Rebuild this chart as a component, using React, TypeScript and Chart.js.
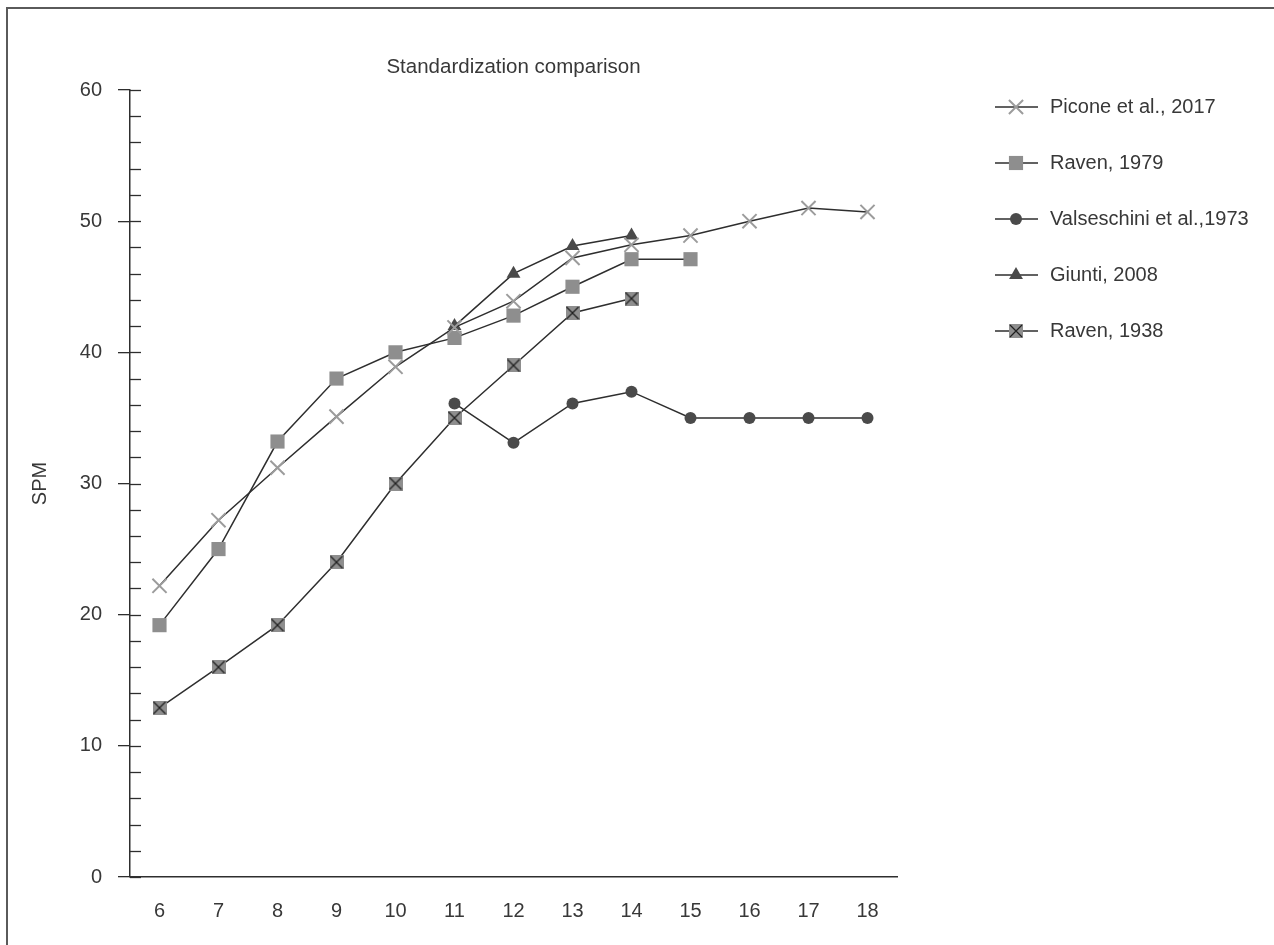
import React, { useEffect, useRef } from 'react';
import { Chart, registerables } from 'chart.js';
import { drawPoint } from 'chart.js/helpers';

Chart.register(...registerables);

const ageLabels = ['6', '7', '8', '9', '10', '11', '12', '13', '14', '15', '16', '17', '18'];

const seriesNames = [
  'Picone et al., 2017',
  'Raven, 1979',
  'Valseschini et al.,1973',
  'Giunti, 2008',
  'Raven, 1938',
];

const piconeValues = [22.2, 27.2, 31.2, 35.1, 38.9, 41.9, 43.9, 47.2, 48.2, 48.9, 50.0, 51.0, 50.7];
const raven1979Values = [19.2, 25.0, 33.2, 38.0, 40.0, 41.1, 42.8, 45.0, 47.1, 47.1, null, null, null];
const valseschiniValues = [null, null, null, null, null, 36.1, 33.1, 36.1, 37.0, 35.0, 35.0, 35.0, 35.0];
const giuntiValues = [null, null, null, null, null, 42.0, 46.0, 48.1, 48.9, null, null, null, null];
const raven1938Values = [12.9, 16.0, 19.2, 24.0, 30.0, 35.0, 39.0, 43.0, 44.1, null, null, null, null];

const yMin = 0;
const yMax = 60;
const yMajorStep = 10;
const yMinorStep = 2;

const chartTitle = 'Standardization comparison';
const yAxisTitle = 'SPM';

const FONT = '"Liberation Sans", Arial, sans-serif';
const TEXT = '#383838';
const LINE = '#2e2e2e';

function makeBoxCross(): HTMLCanvasElement {
  const c = document.createElement('canvas');
  c.width = 14;
  c.height = 14;
  const g = c.getContext('2d')!;
  g.fillStyle = '#8e8e8e';
  g.fillRect(0, 0, 14, 14);
  g.strokeStyle = '#1e1e1e';
  g.lineWidth = 1.2;
  g.beginPath();
  g.moveTo(1, 1);
  g.lineTo(13, 13);
  g.moveTo(13, 1);
  g.lineTo(1, 13);
  g.stroke();
  return c;
}

const minorTickPlugin = {
  id: 'minorTicks',
  beforeDatasetsDraw(chart: any) {
    const y = chart.scales.y;
    const ctx = chart.ctx;
    const left = chart.chartArea.left;
    ctx.save();
    ctx.strokeStyle = LINE;
    ctx.lineWidth = 1.3;
    for (let v = yMin; v <= yMax; v += yMinorStep) {
      const py = Math.round(y.getPixelForValue(v)) + 0.5;
      ctx.beginPath();
      ctx.moveTo(left, py);
      ctx.lineTo(left + 11, py);
      ctx.stroke();
    }
    ctx.restore();
  },
};

const titlePlugin = {
  id: 'centerTitle',
  afterDraw(chart: any) {
    const ctx = chart.ctx;
    const a = chart.chartArea;
    ctx.save();
    ctx.fillStyle = TEXT;
    ctx.font = `20.5px ${FONT}`;
    ctx.textAlign = 'center';
    ctx.textBaseline = 'middle';
    ctx.fillText(chartTitle, (a.left + a.right) / 2, 67);
    ctx.restore();
  },
};

const sideLegendPlugin = {
  id: 'sideLegend',
  afterDraw(chart: any) {
    const ctx = chart.ctx;
    chart.data.datasets.forEach((ds: any, i: number) => {
      const y = 107 + i * 56;
      ctx.save();
      ctx.strokeStyle = LINE;
      ctx.lineWidth = 1.5;
      ctx.beginPath();
      ctx.moveTo(995, y);
      ctx.lineTo(1038, y);
      ctx.stroke();
      ctx.fillStyle = ds.pointBackgroundColor;
      ctx.strokeStyle = ds.pointBorderColor;
      ctx.lineWidth = ds.pointBorderWidth;
      drawPoint(
        ctx,
        { pointStyle: ds.pointStyle, radius: ds.pointRadius, rotation: 0, borderWidth: ds.pointBorderWidth } as any,
        1016,
        y
      );
      ctx.fillStyle = TEXT;
      ctx.font = `20px ${FONT}`;
      ctx.textAlign = 'left';
      ctx.textBaseline = 'middle';
      ctx.fillText(ds.label, 1050, y);
      ctx.restore();
    });
  },
};

export default function App() {
  const canvasRef = useRef<HTMLCanvasElement | null>(null);

  useEffect(() => {
    const canvas = canvasRef.current;
    if (!canvas) return;
    const boxCross = makeBoxCross();
    const common = { borderColor: LINE, borderWidth: 1.5, tension: 0, spanGaps: false };
    const chart = new Chart(canvas, {
      type: 'line',
      data: {
        labels: ageLabels,
        datasets: [
          {
            ...common,
            label: seriesNames[0],
            data: piconeValues,
            pointStyle: 'crossRot',
            pointRadius: 10,
            pointBorderColor: '#9c9c9c',
            pointBackgroundColor: '#9c9c9c',
            pointBorderWidth: 2,
          },
          {
            ...common,
            label: seriesNames[1],
            data: raven1979Values,
            pointStyle: 'rect',
            pointRadius: 10,
            pointBorderColor: '#8e8e8e',
            pointBackgroundColor: '#8e8e8e',
            pointBorderWidth: 0,
          },
          {
            ...common,
            label: seriesNames[2],
            data: valseschiniValues,
            pointStyle: 'circle',
            pointRadius: 6,
            pointBorderColor: '#4a4a4a',
            pointBackgroundColor: '#4a4a4a',
            pointBorderWidth: 0,
          },
          {
            ...common,
            label: seriesNames[3],
            data: giuntiValues,
            pointStyle: 'triangle',
            pointRadius: 8,
            pointBorderColor: '#4a4a4a',
            pointBackgroundColor: '#4a4a4a',
            pointBorderWidth: 0,
          },
          {
            ...common,
            label: seriesNames[4],
            data: raven1938Values,
            pointStyle: boxCross,
            pointRadius: 7,
            pointBorderColor: '#1e1e1e',
            pointBackgroundColor: '#8e8e8e',
            pointBorderWidth: 0,
          },
        ] as any,
      },
      options: {
        responsive: false,
        animation: false,
        devicePixelRatio: 1,
        layout: { padding: { top: 90, right: 377, left: 0, bottom: 0 } },
        plugins: {
          legend: { display: false },
          title: { display: false },
          tooltip: { enabled: false },
        },
        scales: {
          x: {
            type: 'category',
            offset: true,
            grid: { display: false, drawTicks: false },
            border: { display: true, color: LINE, width: 1.5 },
            ticks: {
              color: TEXT,
              font: { family: FONT, size: 20 },
              padding: 22,
              autoSkip: false,
              maxRotation: 0,
            },
            afterFit: (s: any) => {
              s.height = 68;
            },
          },
          y: {
            min: yMin,
            max: yMax,
            ticks: {
              stepSize: yMajorStep,
              color: TEXT,
              font: { family: FONT, size: 20 },
              padding: 16,
            },
            grid: {
              display: true,
              drawOnChartArea: false,
              drawTicks: true,
              tickLength: 12,
              color: LINE,
              lineWidth: 1.3,
            },
            border: { display: true, color: LINE, width: 1.5 },
            title: {
              display: true,
              text: yAxisTitle,
              color: TEXT,
              font: { family: FONT, size: 20 },
              padding: { top: 28, bottom: 0 },
            },
            afterFit: (s: any) => {
              s.width = 130;
            },
          },
        },
      } as any,
      plugins: [minorTickPlugin, titlePlugin, sideLegendPlugin],
    });
    return () => chart.destroy();
  }, []);

  return (
    <div
      style={{
        position: 'fixed',
        left: 0,
        top: 0,
        width: 1274,
        height: 945,
        overflow: 'hidden',
        background: '#fff',
      }}
    >
      <div
        style={{
          position: 'absolute',
          left: 6,
          top: 7,
          width: 1320,
          height: 1000,
          border: '2px solid #5a5a5a',
          boxSizing: 'border-box',
        }}
      />
      <canvas
        ref={canvasRef}
        width={1274}
        height={945}
        style={{ position: 'absolute', left: 0, top: 0, width: 1274, height: 945, display: 'block' }}
      />
    </div>
  );
}
